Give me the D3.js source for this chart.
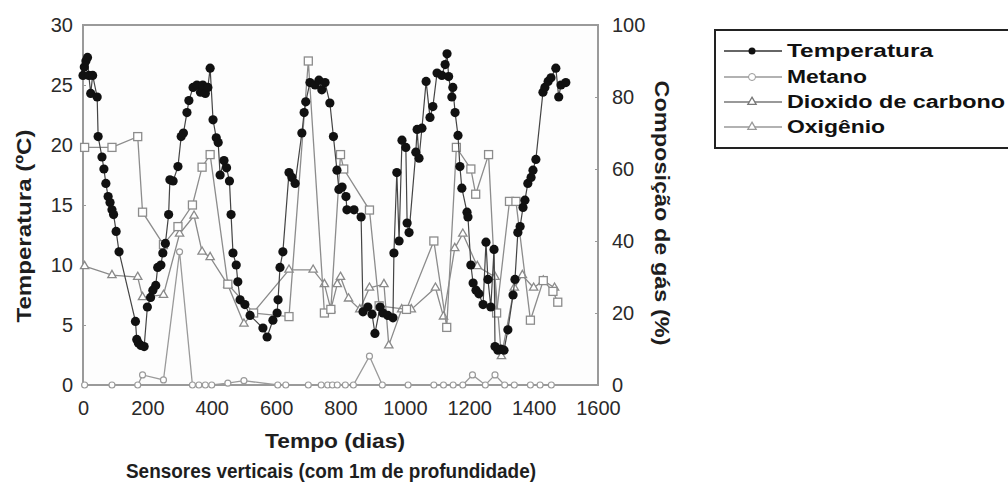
<!DOCTYPE html>
<html><head><meta charset="utf-8">
<script src="https://cdn.jsdelivr.net/npm/d3@7"></script>
<style>
body{margin:0;background:#fff;}
text{font-family:Arial,"Liberation Sans",sans-serif;}
</style></head>
<body><svg id="c" width="1008" height="488"></svg>
<script>
const xTicks=[0,200,400,600,800,1000,1200,1400,1600];
const tTicks=[0,5,10,15,20,25,30];
const gTicks=[0,20,40,60,80,100];
const seriesNames=["Temperatura","Metano","Dioxido de carbono","Oxigênio"];

const temperatura=[[0,25.8],[4,26.5],[9,27.0],[14,27.3],[18,25.8],[24,24.3],[30,25.8],[44,24.0],[47,20.7],[59,19.0],[65,18.0],[71,16.8],[78,15.7],[84,15.2],[90,14.6],[95,14.2],[103,12.8],[112,11.1],[163,5.3],[167,3.8],[172,3.5],[180,3.3],[190,3.2],[200,6.5],[210,7.3],[217,7.9],[226,8.3],[232,9.8],[242,10.0],[248,11.0],[256,11.8],[266,14.2],[270,17.1],[280,17.0],[295,18.2],[305,20.7],[312,21.0],[323,22.7],[329,23.7],[342,24.8],[354,25.0],[365,24.4],[372,25.0],[380,24.3],[388,24.8],[395,26.4],[404,22.1],[414,20.6],[420,20.2],[426,17.5],[438,18.7],[446,18.1],[455,17.0],[460,14.2],[466,11.0],[476,10.0],[481,8.6],[488,7.1],[503,6.7],[519,5.8],[559,4.75],[572,4.0],[590,5.4],[603,6.0],[606,7.1],[612,9.8],[621,11.1],[640,17.7],[649,17.3],[659,16.8],[680,21.0],[687,22.7],[692,23.6],[705,25.2],[721,25.0],[733,25.4],[742,24.6],[752,25.2],[767,23.5],[778,20.7],[789,17.9],[795,16.3],[805,16.5],[817,15.7],[820,14.6],[842,14.6],[864,14.0],[870,6.1],[885,6.5],[898,5.9],[907,4.3],[923,6.5],[932,6.0],[947,5.8],[963,5.6],[966,11.0],[975,17.7],[982,12.0],[991,20.4],[1003,19.8],[1007,13.5],[1013,12.7],[1034,19.4],[1038,21.3],[1044,18.9],[1053,21.4],[1066,25.3],[1078,22.3],[1087,23.2],[1100,26.0],[1115,25.8],[1125,26.7],[1131,27.6],[1136,25.7],[1146,24.0],[1149,24.8],[1156,22.7],[1165,20.8],[1171,18.2],[1177,16.4],[1193,14.4],[1196,14.0],[1205,10.0],[1212,8.5],[1221,7.9],[1230,7.6],[1243,6.7],[1252,11.9],[1258,8.8],[1267,6.5],[1277,11.3],[1280,3.2],[1289,2.9],[1298,3.0],[1308,2.9],[1320,4.6],[1336,7.5],[1342,8.8],[1351,12.7],[1358,13.2],[1367,14.8],[1373,15.4],[1382,16.8],[1392,17.3],[1398,17.9],[1407,18.8],[1429,24.4],[1435,24.8],[1445,25.3],[1454,25.6],[1469,26.4],[1478,24.0],[1485,25.0],[1500,25.2]];

const metano=[[5,66],[90,66],[170,69],[185,48],[250,39],[295,44],[340,50],[370,60.5],[395,64],[450,28],[530,20],[640,19],[700,90],[750,20],[770,21],[800,64],[810,60],[890,48.6],[920,22],[1005,21],[1090,40],[1130,16],[1160,66],[1205,60],[1220,53],[1260,64],[1285,20],[1325,51],[1345,51],[1390,18],[1430,29],[1460,26],[1475,23]];

const dioxido=[[5,33],[90,30.5],[170,30],[185,24.4],[250,25],[300,42],[345,47],[370,37],[395,35.5],[450,27.8],[500,17],[640,32],[715,32],[750,28],[770,21],[790,28],[800,30],[825,24],[860,21],[890,27],[935,28],[950,11],[990,21],[1020,21],[1095,27],[1120,19],[1155,38],[1180,42],[1225,33],[1280,30],[1300,8],[1340,27],[1365,30.5],[1400,27],[1430,29],[1465,27]];

const oxigenio=[[5,0],[90,0],[170,0],[185,2.8],[250,1.4],[300,37],[340,0],[360,0],[380,0],[400,0],[450,0.5],[500,1.2],[605,0],[630,0],[700,0],[740,0],[760,0],[775,0],[790,0],[815,0],[840,0],[890,8],[930,0],[1010,0],[1090,0],[1120,0],[1150,0],[1180,0],[1210,2.8],[1250,0],[1280,2.8],[1310,0],[1340,0],[1390,0],[1420,0],[1455,0]];

const svg=d3.select("#c");
const x=d3.scaleLinear().domain([0,1600]).range([83,598]);
const yT=d3.scaleLinear().domain([0,30]).range([385,25]);
const yG=d3.scaleLinear().domain([0,100]).range([385,25]);

svg.append("rect").attr("x",83).attr("y",25).attr("width",515).attr("height",360)
  .attr("fill","#fdfdfd").attr("stroke","#9a9a9a").attr("stroke-width",2);

const axStyle=g=>{g.select(".domain").remove();g.selectAll("line").attr("stroke","#999");
  g.selectAll("text").attr("font-size",20).attr("fill","#2a2a2a");};
svg.append("g").attr("transform","translate(0,385)")
  .call(d3.axisBottom(x).tickValues(xTicks).tickFormat(d3.format("d")).tickSize(0).tickPadding(16)).call(axStyle);
svg.append("g").attr("transform","translate(83,0)")
  .call(d3.axisLeft(yT).tickValues(tTicks).tickFormat(d3.format("d")).tickSize(-3).tickPadding(10)).call(axStyle);
svg.append("g").attr("transform","translate(598,0)")
  .call(d3.axisRight(yG).tickValues(gTicks).tickFormat(d3.format("d")).tickSize(-3).tickPadding(14)).call(axStyle);

const lineT=d3.line().x(d=>x(d[0])).y(d=>yT(d[1]));
const lineG=d3.line().x(d=>x(d[0])).y(d=>yG(d[1]));
const tri=d3.symbol().type(d3.symbolTriangle).size(30);

function gas(data,color,marker){
  svg.append("path").datum(data).attr("d",lineG).attr("fill","none").attr("stroke",color).attr("stroke-width",1.3);
  const g=svg.append("g");
  data.forEach(d=>{
    if(marker==="sq") g.append("rect").attr("x",x(d[0])-4).attr("y",yG(d[1])-4).attr("width",8).attr("height",8)
      .attr("fill","#fff").attr("stroke",color).attr("stroke-width",1.3);
    else if(marker==="tri") g.append("path").attr("d",tri()).attr("transform",`translate(${x(d[0])},${yG(d[1])})`)
      .attr("fill","#fff").attr("stroke",color).attr("stroke-width",1.3);
    else g.append("circle").attr("cx",x(d[0])).attr("cy",yG(d[1])).attr("r",3)
      .attr("fill","#fff").attr("stroke",color).attr("stroke-width",1.2);
  });
}
gas(oxigenio,"#9a9a9a","circ");
gas(dioxido,"#8a8a8a","tri");
gas(metano,"#8c8c8c","sq");

svg.append("path").datum(temperatura).attr("d",lineT).attr("fill","none").attr("stroke","#444").attr("stroke-width",1.2);
svg.append("g").selectAll("circle").data(temperatura).join("circle")
  .attr("cx",d=>x(d[0])).attr("cy",d=>yT(d[1])).attr("r",4.6).attr("fill","#111");

function title(tr,len,size,txt){
  svg.append("text").attr("transform",tr).attr("text-anchor","middle").attr("font-size",size)
    .attr("font-weight","bold").attr("fill","#1e1e1e").attr("textLength",len).attr("lengthAdjust","spacingAndGlyphs").text(txt);
}
title("translate(335,448)",140,20,"Tempo (dias)");
title("translate(331,478)",410,20,"Sensores verticais (com 1m de profundidade)");
title("translate(31,226) rotate(-90)",193,20,"Temperatura (ºC)");
title("translate(655,213) rotate(90)",265,20,"Composição de gás (%)");

const lg=svg.append("g");
lg.append("rect").attr("x",715).attr("y",30).attr("width",300).attr("height",118).attr("fill","#fff").attr("stroke","#222").attr("stroke-width",2);
const rowY=[51,77,102,127];
const lcol=["#333","#999","#777","#999"];
const legLen=[146,80,218,98];
seriesNames.forEach((n,i)=>{
  const y=rowY[i];
  lg.append("line").attr("x1",724).attr("x2",782).attr("y1",y).attr("y2",y).attr("stroke",lcol[i]).attr("stroke-width",1.3);
  if(i===0) lg.append("circle").attr("cx",752).attr("cy",y).attr("r",3.5).attr("fill","#111");
  else if(i===1) lg.append("circle").attr("cx",752).attr("cy",y).attr("r",3.5).attr("fill","#fff").attr("stroke","#999");
  else lg.append("path").attr("d",tri()).attr("transform",`translate(752,${y})`).attr("fill","#fff").attr("stroke",lcol[i]).attr("stroke-width",1.3);
  lg.append("text").attr("x",787).attr("y",y+6).attr("font-size",18).attr("font-weight","bold").attr("fill","#111")
    .attr("textLength",legLen[i]).attr("lengthAdjust","spacingAndGlyphs").text(n);
});
</script></body></html>
